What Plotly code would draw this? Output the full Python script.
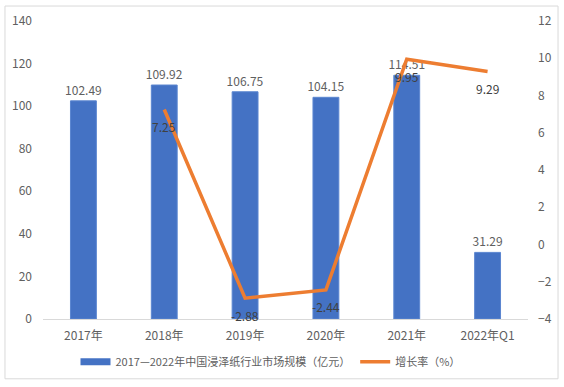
import plotly.graph_objects as go

categories = ["2017年", "2018年", "2019年", "2020年", "2021年", "2022年Q1"]
market_size = [102.49, 109.92, 106.75, 104.15, 114.51, 31.29]
growth_cats = ["2018年", "2019年", "2020年", "2021年", "2022年Q1"]
growth_rate = [7.25, -2.88, -2.44, 9.95, 9.29]

bar_name = "2017—2022年中国浸泽纸行业市场规模（亿元）"
line_name = "增长率（%）"

FONT = "Noto Sans CJK SC, Microsoft YaHei, sans-serif"
GRAY = "#606060"
BLUE = "#4472C4"
ORANGE = "#ED7D31"

fig = go.Figure()
fig.add_trace(go.Bar(
    x=categories, y=market_size, name=bar_name, marker_color=BLUE,
    marker_line=dict(color="#5B86D0", width=1), width=0.32,
    text=[f"{v:.2f}" for v in market_size], textposition="outside",
    constraintext="none",
    textfont=dict(color=GRAY, size=12), cliponaxis=False, showlegend=False,
))
fig.add_trace(go.Scatter(
    x=growth_cats, y=growth_rate, name=line_name, yaxis="y2", mode="lines",
    line=dict(color=ORANGE, width=3.5), cliponaxis=False, showlegend=False,
))
# legend-only entries
fig.add_trace(go.Scatter(x=[None], y=[None], mode="lines", name=bar_name,
                         line=dict(color=BLUE, width=7)))
fig.add_trace(go.Scatter(x=[None], y=[None], mode="lines", name=line_name,
                         line=dict(color=ORANGE, width=3.5)))

# growth-rate data labels below each point
for c, v in zip(growth_cats, growth_rate):
    fig.add_annotation(x=c, y=v, xref="x", yref="y2", text=f"{v:.2f}",
                       showarrow=False, yshift=-17,
                       font=dict(color="#404040", size=12, family=FONT))

fig.update_layout(
    width=564, height=387,
    margin=dict(l=43, r=36, t=21, b=67),
    paper_bgcolor="white", plot_bgcolor="white",
    font=dict(family=FONT, size=12, color=GRAY),
    xaxis=dict(type="category", categoryorder="array", categoryarray=categories,
               showline=True, linecolor="#D9D9D9", linewidth=1, showgrid=False,
               ticks="", ticklabelstandoff=6, tickfont=dict(size=12, color=GRAY)),
    yaxis=dict(range=[0, 140], dtick=20, showgrid=False, zeroline=False,
               showline=False, ticks="", ticklabelstandoff=10,
               tickfont=dict(size=12, color=GRAY)),
    yaxis2=dict(range=[-4, 12], dtick=2, overlaying="y", side="right",
                showgrid=False, zeroline=False, showline=False, ticks="",
                ticklabelstandoff=9, tickfont=dict(size=12, color=GRAY)),
    legend=dict(orientation="h", x=0.067, xanchor="left", y=-0.14, yanchor="middle",
                font=dict(size=11, color=GRAY), itemwidth=30,
                bgcolor="rgba(0,0,0,0)"),
    shapes=[dict(type="rect", xref="paper", yref="paper",
                 x0=-0.0784, x1=1.0619, y0=-0.2007, y1=1.0502,
                 line=dict(color="#D9D9D9", width=1), layer="below")],
)

fig.write_html("out.html", config={"displayModeBar": False},
               post_script="document.body.style.margin='0';document.body.style.overflow='hidden';")
